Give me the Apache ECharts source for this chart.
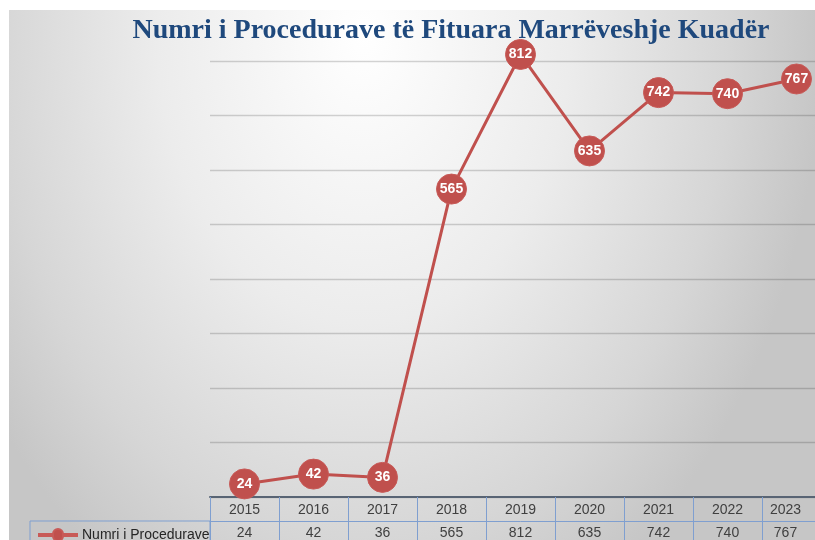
<!DOCTYPE html>
<html>
<head>
<meta charset="utf-8">
<script src="https://cdn.jsdelivr.net/npm/echarts@6/dist/echarts.min.js"></script>
<style>html,body{margin:0;padding:0;background:#fff;overflow:hidden;width:815px;height:540px;}#c{width:831px;height:540px;}</style>
</head>
<body>
<div id="c"></div>
<script>
const titleText = 'Numri i Procedurave të Fituara Marrëveshje Kuadër';
const seriesName = 'Numri i Procedurave';
const years = ['2015','2016','2017','2018','2019','2020','2021','2022','2023'];
const values = [24, 42, 36, 565, 812, 635, 742, 740, 767];
const yTicks = [0, 100, 200, 300, 400, 500, 600, 700, 800];

const chart = echarts.init(document.getElementById('c'), null, {renderer: 'canvas'});
const tableBlue = '#7f9fd0';
const fontFam = 'Liberation Sans, Arial, sans-serif';
const lastIdx = years.length - 1;
function tableLabel(v, i) { return i === lastIdx ? '{e|' + v + '}' : '{n|' + v + '}'; }
const tableRich = {
  n: {fontFamily: fontFam, fontSize: 14, color: '#404040'},
  e: {fontFamily: fontFam, fontSize: 14, color: '#404040', padding: [0, 22, 0, 0]}
};
const bgW = 806, bgH = 530, bgSx = 0.72;

chart.setOption({
  animation: false,
  backgroundColor: '#ffffff',
  title: {
    text: titleText,
    left: 446, top: 12, textAlign: 'center',
    textStyle: {fontFamily: 'Liberation Serif, Times New Roman, serif', fontWeight: 'bold', fontSize: 28, color: '#1F497D'}
  },
  graphic: [
    {type: 'rect', z: -10, silent: true, x: 9, y: 10, scaleX: bgSx,
     shape: {x: 0, y: 0, width: bgW / bgSx, height: bgH},
     style: {fill: {type: 'radial', x: 0.44, y: 0.05, r: 1.2, colorStops: [
       {offset: 0, color: '#ffffff'}, {offset: 0.45, color: '#ececec'}, {offset: 0.8, color: '#d6d6d6'}, {offset: 1, color: '#c6c6c6'}]}}},
    {type: 'rect', z: 5, silent: true, shape: {x: 30, y: 521, width: 180, height: 40},
     style: {fill: 'none', stroke: tableBlue, lineWidth: 1}}
  ],
  legend: {
    left: 33, top: 523, itemWidth: 38, itemHeight: 12, itemGap: 2,
    textStyle: {fontFamily: fontFam, fontSize: 14, color: '#262626'},
    data: [{name: seriesName, icon: 'path://M0,5 L14,5 A4,4 0 1 1 24,5 L38,5 L38,7 L24,7 A4,4 0 1 1 14,7 L0,7 Z', itemStyle: {color: '#c0504d'}}]
  },
  grid: {left: 210, right: 0, top: 61, bottom: 43, containLabel: false},
  xAxis: [
    {type: 'category', data: years, position: 'bottom', boundaryGap: true,
     axisLine: {show: true, lineStyle: {color: '#586474', width: 2}},
     axisTick: {show: true, interval: 0, length: 50, alignWithLabel: false, lineStyle: {color: tableBlue, width: 1}},
     axisLabel: {interval: 0, margin: 6, formatter: tableLabel, rich: tableRich, fontFamily: fontFam, fontSize: 14, color: '#404040'},
     splitLine: {show: false}},
    {type: 'category', data: values.map(String), position: 'bottom', offset: 24, boundaryGap: true,
     axisLine: {show: true, lineStyle: {color: tableBlue, width: 1}},
     axisTick: {show: false},
     axisLabel: {interval: 0, margin: 5, formatter: tableLabel, rich: tableRich, fontFamily: fontFam, fontSize: 14, color: '#404040'},
     splitLine: {show: false}}
  ],
  yAxis: {
    type: 'value', min: yTicks[0], max: yTicks[yTicks.length-1], interval: 100,
    axisLine: {show: false}, axisTick: {show: false}, axisLabel: {show: false},
    splitLine: {show: true, lineStyle: {color: 'rgba(0,0,0,0.17)', width: 1.3}}
  },
  series: [{
    name: seriesName, type: 'line', xAxisIndex: 0, data: values, clip: false,
    symbol: 'circle', symbolSize: 30,
    lineStyle: {color: '#c0504d', width: 3},
    itemStyle: {color: '#c0504d', borderColor: '#c85a57', borderWidth: 1},
    label: {show: true, position: 'inside', color: '#ffffff', fontWeight: 'bold',
            fontFamily: fontFam, fontSize: 14},
    z: 10
  }]
});
</script>
</body>
</html>
